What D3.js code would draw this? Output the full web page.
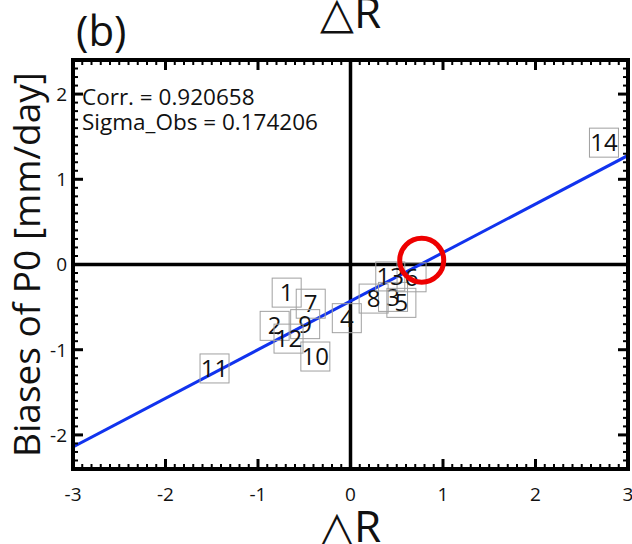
<!DOCTYPE html>
<html>
<head>
<meta charset="utf-8">
<script src="https://cdn.jsdelivr.net/npm/d3@7"></script>
<style>
    html, body { margin: 0; padding: 0; background: #ffffff; }
    svg { display: block; font-family: 'Open Sans', 'Noto Sans', sans-serif; }
</style>
</head>
<body>
<svg id="chart" width="632" height="544"></svg>
<script>
// Model labels and their positions (delta R vs bias of P0)
const modelIds = ['1', '2', '3', '4', '5', '6', '7', '8', '9', '10', '11', '12', '13', '14'];
const deltaR   = [-0.69, -0.82, 0.46, -0.04, 0.55, 0.66, -0.43, 0.25, -0.49, -0.38, -1.47, -0.67, 0.43, 2.74];
const biasP0   = [-0.33, -0.72, -0.38, -0.63, -0.45, -0.15, -0.46, -0.40, -0.70, -1.08, -1.22, -0.87, -0.14, 1.43];

// Regression line end points
const fitX = [-3, 3];
const fitY = [-2.14, 1.28];

// Highlighted point (red circle)
const markX = 0.77;
const markY = 0.05;

// Axis ticks
const xTicks = [-3, -2, -1, 0, 1, 2, 3];
const yTicks = [-2, -1, 0, 1, 2];
const statLines = ['Corr. = 0.920658', 'Sigma_Obs = 0.174206'];

(function() {
    'use strict';

    const width = 632, height = 544;
    const margin = { top: 60, right: 4, bottom: 75, left: 73 };
    const innerWidth = width - margin.left - margin.right;
    const innerHeight = height - margin.top - margin.bottom;

    const svg = d3.select('#chart');
    const g = svg.append('g')
        .attr('transform', `translate(${margin.left}, ${margin.top})`);

    const x = d3.scaleLinear().domain([-3, 3]).range([0, innerWidth]);
    const y = d3.scaleLinear().domain([-2.4, 2.4]).range([innerHeight, 0]);

    // clip for the plot area
    svg.append('defs').append('clipPath').attr('id', 'plot-clip')
        .append('rect').attr('width', innerWidth).attr('height', innerHeight);

    const plot = g.append('g').attr('clip-path', 'url(#plot-clip)');

    // zero lines
    plot.append('line')
        .attr('x1', x(0)).attr('x2', x(0))
        .attr('y1', 0).attr('y2', innerHeight)
        .attr('stroke', '#000').attr('stroke-width', 3.5);
    plot.append('line')
        .attr('x1', 0).attr('x2', innerWidth)
        .attr('y1', y(0)).attr('y2', y(0))
        .attr('stroke', '#000').attr('stroke-width', 3.5);

    // regression line
    plot.append('line')
        .attr('x1', x(fitX[0])).attr('y1', y(fitY[0]))
        .attr('x2', x(fitX[1])).attr('y2', y(fitY[1]))
        .attr('stroke', '#1133ee').attr('stroke-width', 3);

    // boxed model labels
    const boxW = 29, boxH = 29;
    modelIds.forEach((id, i) => {
        const cx = x(deltaR[i]);
        const cy = y(biasP0[i]);
        plot.append('rect')
            .attr('x', cx - boxW / 2)
            .attr('y', cy - boxH / 2)
            .attr('width', boxW)
            .attr('height', boxH)
            .attr('fill', 'none')
            .attr('stroke', '#a0a0a0')
            .attr('stroke-width', 1);
        plot.append('text')
            .attr('x', cx)
            .attr('y', cy)
            .attr('dy', '0.36em')
            .attr('text-anchor', 'middle')
            .attr('font-size', '24px')
            .attr('fill', '#111')
            .text(id);
    });

    // red circle
    plot.append('circle')
        .attr('cx', x(markX))
        .attr('cy', y(markY))
        .attr('r', 22)
        .attr('fill', 'none')
        .attr('stroke', '#ee0000')
        .attr('stroke-width', 5);

    // statistics text
    statLines.forEach((s, i) => {
        g.append('text')
            .attr('x', 9)
            .attr('y', 45 + i * 25)
            .attr('font-size', '22.5px')
            .attr('fill', '#111')
            .text(s);
    });

    // ticks on all four sides (inward), minor every 0.1
    const minorX = d3.range(-30, 31).map(d => d / 10);
    const minorY = d3.range(-24, 25).map(d => d / 10);
    const tickG = g.append('g').attr('stroke', '#000');

    minorX.forEach(v => {
        const major = Math.abs(v - Math.round(v)) < 1e-6;
        const len = major ? 10 : 5;
        const w = major ? 3 : 2;
        tickG.append('line').attr('x1', x(v)).attr('x2', x(v))
            .attr('y1', innerHeight).attr('y2', innerHeight - len).attr('stroke-width', w);
        tickG.append('line').attr('x1', x(v)).attr('x2', x(v))
            .attr('y1', 0).attr('y2', len).attr('stroke-width', w);
    });
    minorY.forEach(v => {
        const major = Math.abs(v - Math.round(v)) < 1e-6;
        const len = major ? 10 : 5;
        const w = major ? 3 : 2;
        tickG.append('line').attr('y1', y(v)).attr('y2', y(v))
            .attr('x1', 0).attr('x2', len).attr('stroke-width', w);
        tickG.append('line').attr('y1', y(v)).attr('y2', y(v))
            .attr('x1', innerWidth).attr('x2', innerWidth - len).attr('stroke-width', w);
    });

    // frame
    g.append('rect')
        .attr('width', innerWidth)
        .attr('height', innerHeight)
        .attr('fill', 'none')
        .attr('stroke', '#000')
        .attr('stroke-width', 4);

    // tick labels
    g.selectAll('.xlab').data(xTicks).enter().append('text')
        .attr('class', 'xlab')
        .attr('x', d => x(d))
        .attr('y', innerHeight + 32)
        .attr('text-anchor', 'middle')
        .attr('font-size', '19px')
        .attr('fill', '#111')
        .text(d => d);

    g.selectAll('.ylab').data(yTicks).enter().append('text')
        .attr('class', 'ylab')
        .attr('x', -6)
        .attr('y', d => y(d))
        .attr('dy', '0.36em')
        .attr('text-anchor', 'end')
        .attr('font-size', '19px')
        .attr('fill', '#111')
        .text(d => d);

    // axis titles
    svg.append('text')
        .attr('x', margin.left + x(0))
        .attr('y', 542)
        .attr('text-anchor', 'middle')
        .attr('font-size', '44px')
        .attr('fill', '#111')
        .text('\u25B3R');

    svg.append('text')
        .attr('x', margin.left + x(0))
        .attr('y', 28)
        .attr('text-anchor', 'middle')
        .attr('font-size', '44px')
        .attr('fill', '#111')
        .text('\u25B3R');

    svg.append('text')
        .attr('transform', `translate(40, ${margin.top + innerHeight / 2}) rotate(-90)`)
        .attr('text-anchor', 'middle')
        .attr('font-size', '37px')
        .attr('fill', '#111')
        .text('Biases of P0 [mm/day]');

    // panel label
    svg.append('text')
        .attr('x', 76)
        .attr('y', 46)
        .attr('font-size', '42px')
        .attr('fill', '#111')
        .text('(b)');
})();
</script>
</body>
</html>
